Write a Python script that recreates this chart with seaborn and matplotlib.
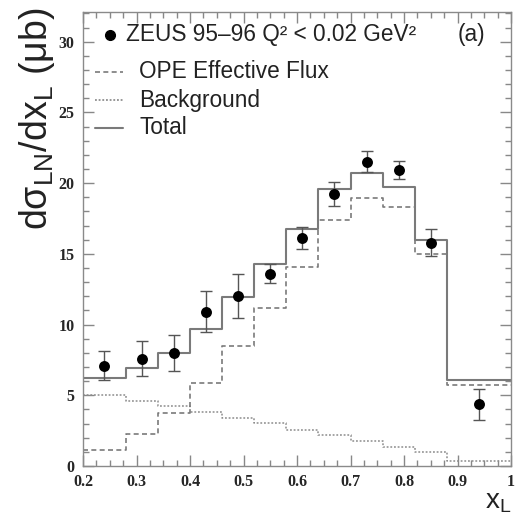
import numpy as np
import pandas as pd
import matplotlib
matplotlib.use("Agg")
import matplotlib.pyplot as plt
import seaborn as sns
from matplotlib.ticker import MultipleLocator, FormatStrFormatter

# x_L binning and model predictions (per bin)
bin_edges = [0.20, 0.28, 0.34, 0.40, 0.46, 0.52, 0.58, 0.64, 0.70, 0.76, 0.82, 0.88, 1.00]
ope_flux = [1.13, 2.24, 3.77, 5.85, 8.49, 11.2, 14.1, 17.36, 18.92, 18.3, 14.98, 5.7]
background = [5.05, 4.62, 4.25, 3.80, 3.37, 3.02, 2.55, 2.19, 1.77, 1.37, 0.97, 0.38]
total = [6.2, 6.95, 8.02, 9.67, 11.92, 14.28, 16.78, 19.57, 20.7, 19.75, 15.98, 6.1]

# ZEUS 95-96 measurements
xl_points = [0.24, 0.31, 0.37, 0.43, 0.49, 0.55, 0.61, 0.67, 0.73, 0.79, 0.85, 0.94]
dsigma = [7.1, 7.6, 8.0, 10.9, 12.0, 13.6, 16.1, 19.2, 21.5, 20.9, 15.8, 4.4]
err_up = [1.06, 1.27, 1.27, 1.5, 1.55, 0.7, 0.8, 0.85, 0.75, 0.7, 0.97, 1.05]
err_dn = [1.01, 1.23, 1.25, 1.45, 1.56, 0.65, 0.77, 0.85, 0.73, 0.64, 0.95, 1.13]

sns.set_style("ticks")
plt.rcParams["font.family"] = ["Liberation Sans", "DejaVu Sans"]
plt.rcParams["mathtext.fontset"] = "custom"
plt.rcParams["mathtext.rm"] = "Liberation Sans"
plt.rcParams["mathtext.default"] = "regular"

fig = plt.figure(figsize=(5.2, 5.2), dpi=100)
ax = fig.add_axes([83 / 520, 54 / 520, 428 / 520, 454 / 520])

centers = [0.5 * (a + b) for a, b in zip(bin_edges[:-1], bin_edges[1:])]
hist_df = pd.DataFrame({"xl": centers, "ope": ope_flux,
                        "bkg": background, "tot": total})

line_col = "#7a7a7a"
sns.histplot(data=hist_df, x="xl", weights="bkg", bins=list(bin_edges),
             element="step", fill=False, color="#8c8c8c",
             linestyle=(0, (1.2, 1.2)), linewidth=1.1, ax=ax)
sns.histplot(data=hist_df, x="xl", weights="ope", bins=list(bin_edges),
             element="step", fill=False, color=line_col,
             linestyle=(0, (3, 2)), linewidth=1.2, ax=ax)
sns.histplot(data=hist_df, x="xl", weights="tot", bins=list(bin_edges),
             element="step", fill=False, color=line_col, linestyle="-",
             linewidth=1.5, ax=ax)

ax.errorbar(xl_points, dsigma, yerr=[err_dn, err_up], fmt="none",
            ecolor="#555555", elinewidth=1.0, capsize=4, capthick=1.0, zorder=4)
sns.scatterplot(x=xl_points, y=dsigma, color="black", s=62, edgecolor="black",
                linewidth=0, zorder=5, ax=ax)

ax.set_xlim(0.2, 1.0)
ax.set_ylim(0, 32.1)
ax.set_xlabel("")
ax.set_ylabel("")

ax.xaxis.set_major_locator(MultipleLocator(0.1))
ax.xaxis.set_minor_locator(MultipleLocator(0.025))
ax.yaxis.set_major_locator(MultipleLocator(5))
ax.yaxis.set_minor_locator(MultipleLocator(1))
ax.xaxis.set_major_formatter(FormatStrFormatter("%g"))
ax.yaxis.set_major_formatter(FormatStrFormatter("%g"))

ax.tick_params(which="both", direction="in", top=True, right=True,
               color="#888888", width=1.0)
ax.tick_params(which="major", length=8)
ax.tick_params(which="minor", length=4)
ax.tick_params(axis="x", pad=6)
ax.tick_params(axis="y", pad=6)
for lab in ax.get_xticklabels() + ax.get_yticklabels():
    lab.set_fontfamily("Liberation Serif")
    lab.set_fontweight("bold")
    lab.set_fontsize(11.5)

for sp in ax.spines.values():
    sp.set_color("#8a8a8a")
    sp.set_linewidth(1.0)

# axis titles
fig.text(37 / 520, 1 - 7 / 520, "d$σ_{LN}$/dx$_{L}$ (μb)", rotation=90,
         ha="center", va="top", fontsize=27, color="#222222")
fig.text(511 / 520, 1 - 515 / 520, "x$_{L}$", ha="right", va="bottom",
         fontsize=20, color="#222222")


# legend, placed in axes fractions from pixel offsets inside the frame
def fx(px):
    return (px - 83) / 428


def fy(py):
    return (466 - py) / 454


ax.plot([fx(110)], [fy(35)], "o", color="black", ms=7, transform=ax.transAxes,
        clip_on=False)
ax.text(fx(126), fy(35), "ZEUS 95–96 Q² < 0.02 GeV²", fontsize=16.3,
        ha="left", va="center", transform=ax.transAxes, color="#222222")
ax.text(fx(458), fy(35), "(a)", fontsize=16.3, ha="left", va="center",
        transform=ax.transAxes, color="#222222")

entries = [("OPE Effective Flux", (0, (3, 2)), 1.2, 72),
           ("Background", (0, (1.2, 1.2)), 1.1, 100),
           ("Total", "-", 1.5, 128)]
for label, ls, lw, py in entries:
    ax.plot([fx(95), fx(123)], [fy(py), fy(py)], linestyle=ls, linewidth=lw,
            color=line_col, transform=ax.transAxes)
    ax.text(fx(139), fy(py), label, fontsize=16.3, ha="left", va="center",
            transform=ax.transAxes, color="#222222")

fig.savefig("out.png", dpi=100)
